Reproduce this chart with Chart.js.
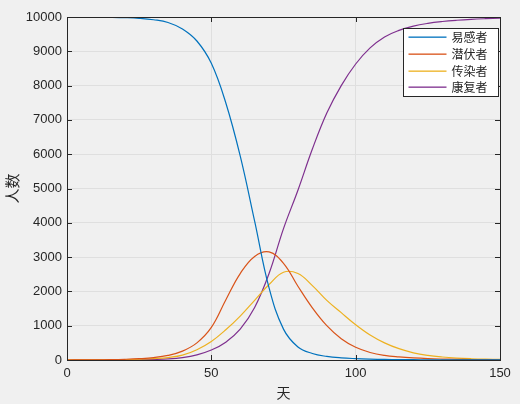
<!DOCTYPE html>
<html>
<head>
<meta charset="utf-8">
<script src="https://cdn.jsdelivr.net/npm/chart.js@4"></script>
<style>
  html, body { margin: 0; padding: 0; background: #f0f0f0; }
  #wrap { width: 520px; height: 404px; }
</style>
</head>
<body>
<div id="wrap"><canvas id="c" width="520" height="404"></canvas></div>
<script>
// SEIR curves, every 5 days
const days = [0, 5, 10, 15, 20, 25, 30, 35, 40, 45, 50, 55, 60, 65, 70, 75,
              80, 85, 90, 95, 100, 105, 110, 115, 120, 125, 130, 135, 140, 145, 150]

const susceptible = [10000, 9999, 9997, 9992, 9982, 9962, 9920, 9840, 9650, 9300, 8650, 7500, 5950, 4050, 2100, 900,
                     380, 190, 105, 62, 40, 26, 17, 12, 9, 7, 5, 4, 3, 3, 2]
const exposed     = [0, 2, 5, 10, 20, 38, 70, 135, 260, 500, 950, 1750, 2520, 3020, 3150, 2820,
                     2150, 1520, 1000, 620, 370, 220, 135, 90, 60, 40, 28, 20, 14, 10, 7]
const infected    = [1, 2, 3, 6, 12, 22, 40, 72, 140, 300, 540, 880, 1280, 1740, 2200, 2560,
                     2520, 2170, 1740, 1380, 1030, 730, 500, 330, 210, 135, 88, 57, 37, 24, 16]
const recovered   = [0, 0, 1, 2, 4, 8, 15, 30, 70, 150, 290, 520, 900, 1530, 2520, 3830,
                     4950, 6150, 7200, 8000, 8630, 9100, 9420, 9610, 9735, 9815, 9868, 9905, 9932, 9950, 9963]

const seriesNames  = ["易感者", "潜伏者", "传染者", "康复者"]
const seriesColors = ["#0072BD", "#D95319", "#EDB120", "#7E2F8E"]
const xTicks = [0, 50, 100, 150]

const axisColor = "#262626"
const tickFont  = { family: "Liberation Sans, Arial, sans-serif", size: 13 }
const cjkFont   = "Noto Sans CJK SC"

const toPoints = (vals) => vals.map((v, i) => ({ x: days[i], y: v }))

// MATLAB-style box with inward tick marks on all four sides
const boxPlugin = {
  id: "box",
  afterDatasetsDraw(chart) {
    const { ctx, chartArea: a, scales } = chart
    ctx.save()
    ctx.strokeStyle = axisColor
    ctx.lineWidth = 1
    ctx.beginPath()
    for (const t of xTicks) {
      const px = Math.round(scales.x.getPixelForValue(t)) + 0.5
      ctx.moveTo(px, a.bottom); ctx.lineTo(px, a.bottom - 5)
      ctx.moveTo(px, a.top);    ctx.lineTo(px, a.top + 5)
    }
    for (let v = 0; v <= 10000; v += 1000) {
      const py = Math.round(scales.y.getPixelForValue(v)) + 0.5
      ctx.moveTo(a.left, py);  ctx.lineTo(a.left + 5, py)
      ctx.moveTo(a.right, py); ctx.lineTo(a.right - 5, py)
    }
    ctx.stroke()
    ctx.strokeRect(Math.round(a.left) + 0.5, Math.round(a.top) + 0.5,
                   Math.round(a.right - a.left), Math.round(a.bottom - a.top))
    ctx.restore()
  }
}

// boxed legend in the upper-right corner, drawn from the dataset labels
const legendPlugin = {
  id: "boxLegend",
  afterDraw(chart) {
    const { ctx, chartArea: a } = chart
    const w = 95, h = 68
    const x0 = Math.round(a.right - w - 2) + 0.5
    const y0 = Math.round(a.top + 11) + 0.5
    ctx.save()
    ctx.fillStyle = "#fff"
    ctx.fillRect(x0, y0, w, h)
    ctx.strokeStyle = axisColor
    ctx.lineWidth = 1
    ctx.strokeRect(x0, y0, w, h)
    ctx.font = `12px "${cjkFont}"`
    ctx.textBaseline = "middle"
    chart.data.datasets.forEach((ds, i) => {
      const y = Math.round(y0 + 8.5 + i * 16.8)
      ctx.fillStyle = seriesColors[i]
      ctx.fillRect(x0 + 5, y - 0.5, 38, 1.3)
      ctx.fillStyle = axisColor
      ctx.fillText(ds.label, x0 + 48, y)
    })
    ctx.restore()
  }
}

const allSeries = [susceptible, exposed, infected, recovered]

new Chart(document.getElementById("c"), {
  type: "line",
  data: {
    datasets: allSeries.map((vals, i) => ({
      label: seriesNames[i],
      data: toPoints(vals),
      borderColor: seriesColors[i],
      borderWidth: 1.2,
      pointRadius: 0,
      tension: 0.4,
      fill: false,
    }))
  },
  options: {
    responsive: false,
    animation: false,
    layout: { padding: { top: 17, right: 20, left: 0, bottom: 0 } },
    plugins: {
      legend: { display: false },
      tooltip: { enabled: false },
    },
    scales: {
      x: {
        type: "linear",
        min: 0, max: 150,
        afterBuildTicks: (s) => { s.ticks = xTicks.map(v => ({ value: v })) },
        afterFit: (s) => { s.height = 44 },
        grid: { color: "#dfdfdf", drawTicks: false },
        border: { display: false },
        ticks: { color: axisColor, font: tickFont, padding: 6, maxRotation: 0 },
        title: { display: true, text: "天", color: axisColor,
                 font: { family: cjkFont, size: 14 }, padding: { top: 0, bottom: 3 } },
      },
      y: {
        min: 0, max: 10000,
        afterFit: (s) => { s.width = 67 },
        grid: { color: "#dfdfdf", drawTicks: false },
        border: { display: false },
        ticks: { stepSize: 1000, color: axisColor, font: tickFont, padding: 5,
                 callback: (v) => String(v) },
        title: { display: true, text: "人数", color: axisColor,
                 font: { family: cjkFont, size: 15 }, padding: { top: 3, bottom: 0 } },
      }
    }
  },
  plugins: [boxPlugin, legendPlugin]
})
</script>
</body>
</html>
